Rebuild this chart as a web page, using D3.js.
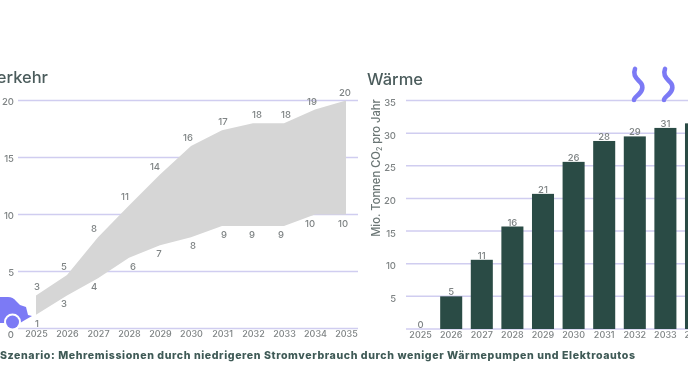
<!DOCTYPE html>
<html>
<head>
<meta charset="utf-8">
<script src="https://cdn.jsdelivr.net/npm/d3@7"></script>
<style>
  html, body { margin: 0; padding: 0; background: #fff; overflow: hidden; }
  svg { display: block; filter: blur(0.5px); }
  text { font-family: Inter, "Noto Sans", sans-serif; font-weight: 500; }
</style>
</head>
<body>
<svg id="chart" width="688" height="387"></svg>
<script>
const trafficYears = [2025, 2026, 2027, 2028, 2029, 2030, 2031, 2032, 2033, 2034, 2035];
const trafficUpper = [2.9, 4.7, 8, 10.8, 13.5, 16, 17.4, 18, 18, 19.2, 20];
const trafficLower = [1.2, 2.9, 4.4, 6.2, 7.3, 8, 9, 9, 9, 10, 10];
const trafficTicks = [0, 5, 10, 15, 20];

const heatYears = [2025, 2026, 2027, 2028, 2029, 2030, 2031, 2032, 2033, 2034];
const heatValues = [0, 5, 10.6, 15.7, 20.7, 25.6, 28.8, 29.5, 30.8, 31.5];
const heatLabels = [0, 5, 11, 16, 21, 26, 28, 29, 31, 32];
const heatTicks = [0, 5, 10, 15, 20, 25, 30, 35];

// small sideways shifts of the band labels, they do not sit on the year
const upperShift = [1, -3, -4, -4, -5, -3, 1, 4, 2, -3, -1];
const lowerShift = [1, -3, -4, 4, -1, 2, 2, -1, -3, -5, -3];

const tickColor = "#7f8485";
const titleColor = "#4b5c5c";
const gridColor = "#d0cdf0";
const purple = "#7c7af5";

const svg = d3.select("#chart");

// Left chart: band of traffic emissions
const xTraffic = d3.scalePoint().domain(trafficYears).range([36, 346]);
const yTraffic = d3.scaleLinear().domain([0, 20]).range([328.5, 100.5]);

const left = svg.append("g");

left.append("g")
  .selectAll("line")
  .data(trafficTicks)
  .join("line")
  .attr("x1", 18)
  .attr("x2", 358)
  .attr("y1", d => yTraffic(d))
  .attr("y2", d => yTraffic(d))
  .attr("stroke", gridColor)
  .attr("stroke-width", 1.5);

const band = d3.area()
  .x(d => xTraffic(d))
  .y0((d, i) => yTraffic(trafficLower[i]))
  .y1((d, i) => yTraffic(trafficUpper[i]));

left.append("path")
  .datum(trafficYears)
  .attr("d", band)
  .attr("fill", "#d6d6d6");

const leftY = left.append("g")
  .attr("transform", "translate(14,0)")
  .call(d3.axisLeft(yTraffic).tickValues(trafficTicks).tickSize(0).tickPadding(0));
leftY.select(".domain").remove();
leftY.selectAll("text")
  .attr("font-size", 9.5)
  .attr("font-family", "Inter")
  .attr("fill", tickColor)
  .attr("dy", d => d === 0 ? "0.9em" : "0.42em");

const leftX = left.append("g")
  .attr("transform", "translate(0,331)")
  .call(d3.axisBottom(xTraffic).tickSize(0).tickPadding(0).tickFormat(d3.format("d")));
leftX.select(".domain").remove();
leftX.selectAll("text")
  .attr("font-size", 9)
  .attr("font-family", "Inter")
  .attr("fill", tickColor);

left.append("g")
  .selectAll("text")
  .data(trafficYears)
  .join("text")
  .attr("x", (d, i) => xTraffic(d) + upperShift[i])
  .attr("y", (d, i) => yTraffic(trafficUpper[i]) - 5)
  .attr("text-anchor", "middle")
  .attr("font-size", 9.5)
  .attr("fill", tickColor)
  .text((d, i) => Math.round(trafficUpper[i]));

left.append("g")
  .selectAll("text")
  .data(trafficYears)
  .join("text")
  .attr("x", (d, i) => xTraffic(d) + lowerShift[i])
  .attr("y", (d, i) => yTraffic(trafficLower[i]) + 12)
  .attr("text-anchor", "middle")
  .attr("font-size", 9.5)
  .attr("fill", tickColor)
  .text((d, i) => Math.round(trafficLower[i]));

left.append("text")
  .attr("x", 48)
  .attr("y", 83)
  .attr("text-anchor", "end")
  .attr("font-size", 16.5)
  .attr("fill", titleColor)
  .text("Verkehr");

// Car icon, cut by the left edge
left.append("path")
  .attr("d", "M-12,297 L8,297 Q13,297 16,301 L20,305 L26,307 L28,315 L32,316 L25,320 L20,323 L0,323 L-12,323 Z")
  .attr("fill", purple);
left.append("circle")
  .attr("cx", 12.5)
  .attr("cy", 322)
  .attr("r", 8.5)
  .attr("fill", "#fff");
left.append("circle")
  .attr("cx", 12.5)
  .attr("cy", 322)
  .attr("r", 6.5)
  .attr("fill", purple);

// Right chart: heat bars
const xHeat = d3.scaleBand().domain(heatYears).range([405.3, 711.3]).paddingInner(0.28).paddingOuter(0.14);
const yHeat = d3.scaleLinear().domain([0, 35]).range([329, 100.5]);

const right = svg.append("g");

right.append("g")
  .selectAll("line")
  .data(heatTicks)
  .join("line")
  .attr("x1", 406)
  .attr("x2", 688)
  .attr("y1", d => yHeat(d))
  .attr("y2", d => yHeat(d))
  .attr("stroke", gridColor)
  .attr("stroke-width", 1.5);

right.append("g")
  .selectAll("rect")
  .data(heatYears)
  .join("rect")
  .attr("x", d => xHeat(d))
  .attr("y", (d, i) => yHeat(heatValues[i]))
  .attr("width", xHeat.bandwidth())
  .attr("height", (d, i) => yHeat(0) - yHeat(heatValues[i]))
  .attr("fill", "#2a4b45");

right.append("g")
  .selectAll("text")
  .data(heatYears)
  .join("text")
  .attr("x", d => xHeat(d) + xHeat.bandwidth() / 2)
  .attr("y", (d, i) => yHeat(heatValues[i]) - 1)
  .attr("text-anchor", "middle")
  .attr("font-size", 9.5)
  .attr("fill", tickColor)
  .text((d, i) => heatLabels[i]);

// the zero has no label on this axis, only its grid line
const rightY = right.append("g")
  .attr("transform", "translate(396,2)")
  .call(d3.axisLeft(yHeat).tickValues(heatTicks.filter(d => d > 0)).tickSize(0).tickPadding(0));
rightY.select(".domain").remove();
rightY.selectAll("text")
  .attr("font-size", 9.5)
  .attr("font-family", "Inter")
  .attr("fill", tickColor);

const rightX = right.append("g")
  .attr("transform", "translate(0,332)")
  .call(d3.axisBottom(xHeat).tickSize(0).tickPadding(0).tickFormat(d3.format("d")));
rightX.select(".domain").remove();
rightX.selectAll("text")
  .attr("font-size", 9)
  .attr("font-family", "Inter")
  .attr("fill", tickColor);

right.append("text")
  .attr("x", 367)
  .attr("y", 85)
  .attr("font-size", 16.5)
  .attr("fill", titleColor)
  .text("Wärme");

const yLabel = right.append("text")
  .attr("transform", "translate(380,168) rotate(-90)")
  .attr("text-anchor", "middle")
  .attr("font-size", 11.2)
  .attr("fill", "#6a7574");
yLabel.append("tspan").text("Mio. Tonnen CO");
yLabel.append("tspan").attr("font-size", 7).attr("dy", 2).text("2");
yLabel.append("tspan").attr("dy", -2).text(" pro Jahr");

// Heat waves above the bars
[635, 665].forEach(x => {
  right.append("path")
    .attr("transform", "translate(" + x + ",69)")
    .attr("d", "M0,0 C-2,5 0,8 4,12 C9,16 8,21 4,25 C1,28 -1,29 -1,31")
    .attr("fill", "none")
    .attr("stroke", purple)
    .attr("stroke-width", 4.6)
    .attr("stroke-linecap", "round");
});

// Footer
svg.append("text")
  .attr("x", 0)
  .attr("y", 359)
  .attr("font-size", 10.6)
  .style("font-weight", 800)
  .attr("letter-spacing", 0.59)
  .attr("fill", "#3f5a56")
  .text("Szenario: Mehremissionen durch niedrigeren Stromverbrauch durch weniger Wärmepumpen und Elektroautos");
</script>
</body>
</html>
